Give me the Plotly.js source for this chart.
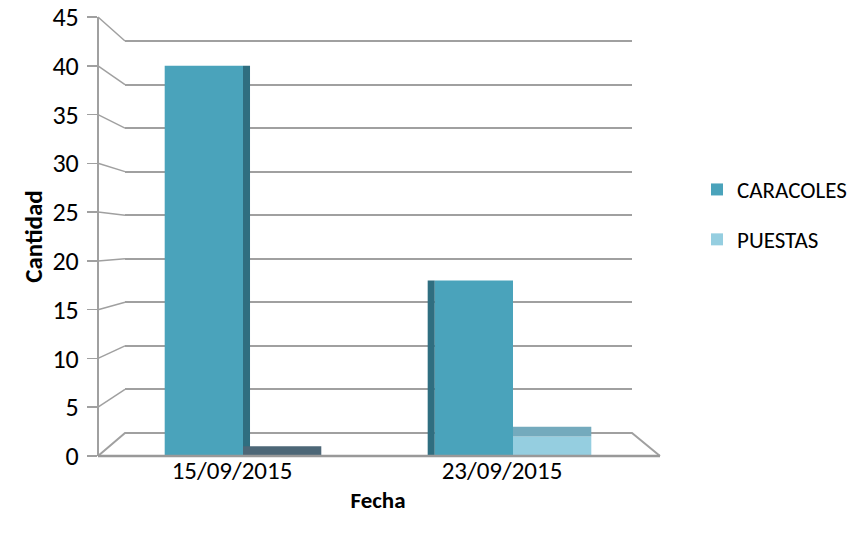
<!DOCTYPE html>
<html><head><meta charset="utf-8">
<script src="https://cdn.plot.ly/plotly-3.0.1.min.js"></script>
<style>html,body{margin:0;padding:0;background:#fff}#chart{width:853px;height:543px}</style>
</head><body><div id="chart"></div>
<script>
const categories = ['15/09/2015', '23/09/2015'];
const caracoles = [40, 18];
const puestas = [0, 2];
const yTicks = [0, 5, 10, 15, 20, 25, 30, 35, 40, 45];
const seriesNames = ['CARACOLES', 'PUESTAS'];

const W = 853, H = 543, T = 17, B = 87;
const plotH = H - T - B;
const px = v => v / W;
const py = y => (H - B - y) / plotH;

const FRONT_RANGE = [0, 45];
const BACK_RANGE = [-2.64, 47.75];
const frontF = v => (v - FRONT_RANGE[0]) / (FRONT_RANGE[1] - FRONT_RANGE[0]);
const backF = v => (v - BACK_RANGE[0]) / (BACK_RANGE[1] - BACK_RANGE[0]);

const AXIS_X = px(98), BACK_X0 = px(125), BACK_X1 = px(632), FLOOR_X1 = px(660);
const gray = '#a0a0a0';
const fam = 'Carlito, Calibri, "Liberation Sans", Arial, sans-serif';

const traces = [
  {type: 'scatter', x: [], y: [], xaxis: 'x', yaxis: 'y', showlegend: false, hoverinfo: 'skip'},
  {type: 'scatter', x: [], y: [], xaxis: 'x', yaxis: 'y3', showlegend: false, hoverinfo: 'skip'},
  {type: 'bar', name: seriesNames[0], x: categories, y: caracoles, xaxis: 'x2', yaxis: 'y2',
   offsetgroup: 'c', legendgroup: 'a', marker: {color: '#4aa3bb'}},
  {type: 'bar', name: 'side', x: categories, y: caracoles, xaxis: 'x2', yaxis: 'y2',
   offset: [0, -0.316], width: 0.026, showlegend: false, hoverinfo: 'skip',
   marker: {color: '#2f6e80'}},
  {type: 'bar', name: seriesNames[1], x: categories, y: puestas, xaxis: 'x2', yaxis: 'y2',
   offsetgroup: 'p', legendgroup: 'b', marker: {color: '#95cee0'}},
  {type: 'bar', name: 'top', x: categories, y: puestas.map(() => 1), base: puestas, xaxis: 'x2', yaxis: 'y2',
   offsetgroup: 'p', showlegend: false, marker: {color: ['#4d6777', '#74aabd']}, hoverinfo: 'skip'}
];

const shapes = [];
shapes.push({type: 'path', xref: 'paper', yref: 'paper', layer: 'between',
  path: `M ${AXIS_X} 0 L ${BACK_X0} ${backF(0)} L ${BACK_X1} ${backF(0)} L ${FLOOR_X1} 0`,
  line: {color: gray, width: 2}});
shapes.push({type: 'line', xref: 'paper', yref: 'paper', layer: 'above',
  x0: AXIS_X, x1: FLOOR_X1, y0: 0, y1: 0, line: {color: '#999999', width: 2.5}});
yTicks.filter(v => v > 0).forEach(v => {
  shapes.push({type: 'line', xref: 'paper', yref: 'paper', layer: 'between',
    x0: AXIS_X, y0: frontF(v), x1: BACK_X0, y1: backF(v), line: {color: gray, width: 1.5}});
});

const layout = {
  width: W, height: H, margin: {l: 0, r: 0, t: T, b: B},
  paper_bgcolor: '#ffffff', plot_bgcolor: 'rgba(0,0,0,0)',
  font: {family: fam, color: '#000000', size: 24},
  barmode: 'group', bargap: 0.42, bargroupgap: 0,
  showlegend: true,
  xaxis: {domain: [BACK_X0, BACK_X1], range: [0, 1], showgrid: false, zeroline: false,
          showticklabels: false, showline: false, ticks: '', anchor: 'y'},
  yaxis: {domain: [0, 1], range: BACK_RANGE, tick0: 0, dtick: 5, showgrid: true, gridcolor: gray,
          gridwidth: 2, zeroline: false, showticklabels: false, ticks: '', anchor: 'x'},
  xaxis2: {domain: [px(108), px(648)], type: 'category', range: [-0.5, 1.5], anchor: 'y2',
           showgrid: false, zeroline: false, showline: false, ticks: '', tickfont: {size: 25},
           ticklabelshift: -11, ticklabelstandoff: -3,
           title: {text: '<b>Fecha</b>', font: {size: 23}, standoff: 6}},
  yaxis2: {domain: [0, 1], range: FRONT_RANGE, visible: false, anchor: 'x2'},
  yaxis3: {overlaying: 'y', anchor: 'free', position: AXIS_X, range: FRONT_RANGE, tickvals: yTicks,
           showline: true, linecolor: gray, linewidth: 2, ticks: 'outside', ticklen: 10,
           tickcolor: gray, tickwidth: 1.5, showgrid: false, zeroline: false, tickfont: {size: 26},
           ticklabelstandoff: 3,
           title: {text: '<b>Cantidad</b>', font: {size: 25}, standoff: 2}},
  legend: {x: px(697), y: py(168), xanchor: 'left', yanchor: 'top', font: {size: 23},
           tracegroupgap: 17, bgcolor: 'rgba(0,0,0,0)'},
  shapes: shapes
};

Plotly.newPlot('chart', traces, layout, {staticPlot: true, displayModeBar: false});
</script>
</body></html>
